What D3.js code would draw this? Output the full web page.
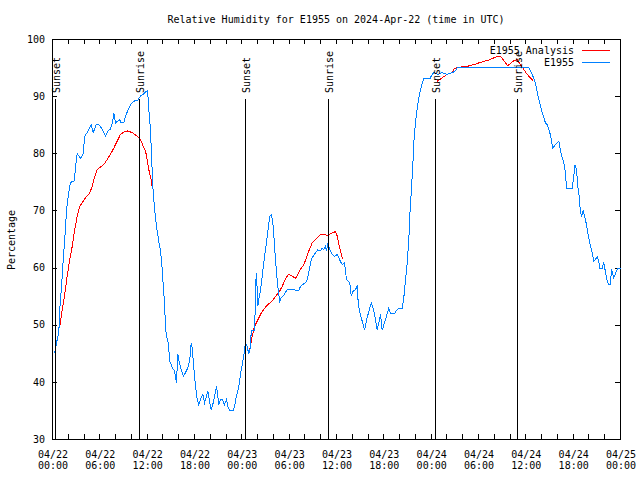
<!DOCTYPE html>
<html><head><meta charset="utf-8">
<script src="https://cdn.jsdelivr.net/npm/d3@7"></script>
<style>
body{margin:0;background:#fff}
svg text{font-family:"DejaVu Sans Mono",monospace;font-size:10px;fill:#000}
</style>
</head><body><svg id="c" width="640" height="480"></svg>
<script>
const titleText = "Relative Humidity for E1955 on 2024-Apr-22 (time in UTC)";
const yLabelText = "Percentage";
const seriesNames = ["E1955 Analysis", "E1955"];
const seriesColors = ["#ff0000", "#0080ff"];

// Observations: hours since 2024-04-22 00:00 UTC, relative humidity (%)
const obsHours = [0.29,0.47,0.67,0.80,0.93,1.10,1.23,1.36,1.52,1.65,1.77,1.94,2.12,2.28,2.70,2.79,2.92,3.13,3.55,3.89,4.09,4.40,4.60,4.91,5.16,5.54,5.87,6.30,6.72,7.01,7.35,7.64,7.77,7.99,8.49,8.71,9.04,9.25,9.54,9.89,10.31,10.81,11.15,11.50,11.79,12.00,12.13,12.21,12.42,12.63,12.76,12.93,13.06,13.27,13.47,13.69,13.85,14.03,14.20,14.32,14.45,14.67,14.87,15.05,15.21,15.38,15.55,15.72,15.88,16.05,16.31,16.57,16.86,17.15,17.40,17.58,17.71,17.91,18.13,18.34,18.54,18.76,19.05,19.27,19.48,19.69,19.90,20.12,20.37,20.54,20.79,21.08,21.30,21.51,21.80,22.06,22.22,22.47,22.91,23.07,23.32,23.62,23.83,24.05,24.25,24.46,24.68,24.88,25.10,25.19,25.61,25.73,25.82,25.95,26.02,26.15,26.37,26.58,26.78,27.00,27.22,27.42,27.55,27.76,27.98,28.18,28.39,28.61,28.81,28.99,29.24,29.75,30.38,31.22,31.44,31.65,32.07,32.29,32.49,32.70,32.92,33.21,33.63,33.97,34.19,34.39,34.61,34.73,34.90,35.15,35.45,35.75,36.09,36.38,36.72,37.01,37.27,37.69,37.87,38.12,38.41,38.63,38.75,38.96,39.26,39.55,39.86,40.18,40.40,40.65,40.94,41.16,41.36,41.58,41.79,42.08,42.34,42.63,42.84,43.39,43.60,43.90,44.33,44.53,44.75,44.96,45.16,45.29,45.47,45.67,45.80,46.01,46.23,46.43,46.65,46.86,47.06,47.83,48.13,48.33,48.84,49.40,50.03,50.67,51.08,51.30,60.38,60.81,61.22,61.44,61.64,61.86,62.07,62.28,62.49,62.71,63.04,63.22,63.42,63.76,64.18,64.39,64.61,64.81,65.03,65.15,65.88,66.08,66.21,66.42,66.59,66.76,66.93,67.09,67.27,67.44,67.60,67.78,67.98,68.20,68.41,68.62,68.83,69.05,69.25,69.38,69.68,69.88,70.22,70.39,70.52,70.73,70.85,71.15,71.58,71.78,72.00];
const obsValues = [45.2,46.6,48,48.7,53,56,58.6,61.5,64.4,67,70,72,73.8,75,75.2,75.5,77.8,80,79.2,80,83.1,83.7,84.3,85.1,83.7,85.1,85.1,84.3,83.1,84,84.3,85.7,87.2,85.4,86,85.4,85.4,86.6,87.5,88.6,89.2,89.4,90.1,90.4,90.8,91,89.8,87.8,84.2,77.2,73.2,70.5,68.8,66.5,64.7,63,60.9,57.1,53.9,49.8,48.1,46.9,43.7,43.1,42.5,42.2,41.4,39.9,45,43.7,42.2,41.1,41.7,42.5,44,46.9,46,42.5,39.3,37,36.1,37,37.9,36.4,37.3,38.5,36.7,35.2,36.4,37.6,39.3,36.1,37,37,36.1,37,35.8,35.1,35.1,35.8,37.6,39.3,41.4,43.1,44.6,46.9,46.3,44.9,46.3,49,49,54.5,59.2,56.2,53.3,54.5,56.2,58.6,60.9,63.2,65.6,67.9,69.1,69.4,67.3,63.2,59.2,56.2,54.2,54.8,55.1,56.2,56.2,56.1,56.8,57.1,57.4,58,59.2,60.9,61.8,62.4,63.2,63,63.5,63.2,63.8,63,64.4,63.2,62.4,62,62.4,61.5,60.6,60.9,58,57.4,55.1,56,56.2,57,53.9,52.2,50.7,49.1,51.2,52.8,53.9,53,51,49.2,50.4,51.9,49.1,50.4,51.6,53,52,52,52.6,53,53,54.8,58,60.9,64.7,69.1,73.2,77.8,81.9,85.4,88,89.8,91.2,92.4,93.1,93.1,93.9,94.2,93.9,94.2,93.9,94.2,94.5,95.1,95.1,93.9,92.4,90.8,89.5,88.3,87.2,86.3,85.4,85.1,83.7,82.5,81,81.6,82.2,80.5,79.3,78.4,76.7,74,74,76.1,78.1,77.2,74.3,72.6,69.7,69.1,70,69.1,68.2,66.8,65.3,63.8,62.7,61.2,61.5,62,61.2,60,60,61,58.3,57.4,57.1,57.1,59.8,58.3,59.8,60,60];

// Analysis: null marks a gap between segments
const anaHours = [0.93,1.23,1.52,1.86,2.19,2.50,2.79,3.13,3.46,3.76,4.18,4.60,4.82,5.03,5.24,5.45,5.67,6.08,6.50,6.93,7.35,7.77,8.20,8.62,9.04,9.54,10.10,10.74,11.15,11.50,11.79,12.00,12.21,12.51,12.64,
  18.0,
  24.88,25.01,25.31,25.61,25.95,26.37,26.78,27.22,27.63,28.05,28.48,28.81,29.12,29.41,29.75,29.95,30.38,30.80,31.09,31.44,31.85,32.20,32.49,32.92,33.34,33.76,33.97,34.39,34.82,35.24,35.58,35.87,36.09,36.29,36.51,36.72,36.85,
  42.0,
  48.76,49.40,50.03,50.67,50.87,51.30,52.57,53.40,54.25,55.30,56.15,56.79,57.71,58.47,58.90,59.32,60.17,60.97];
const anaValues = [49.8,52.8,55.1,58.6,61.5,63.8,66.5,69.1,70.8,71.4,72.3,72.9,73.5,74.3,75.5,76.4,77.2,77.7,78.1,79,79.9,81,82.2,83.4,83.8,84,83.7,83.1,82.5,81.3,80.5,79,77.2,75.5,74,
  null,
  44.9,45.8,48.1,49.8,50.7,51.9,52.8,53.5,54,54.6,55.4,56,56.8,57.7,58.6,58.9,58.6,58.2,58.9,59.8,60.6,61.8,63,64.4,65,65.6,65.9,65.9,65.7,66,66.2,66.4,65.6,64.1,63,61.8,61.5,
  null,
  92.7,93.3,93.9,94.2,94.8,95.1,95.3,95.6,96,96.4,96.9,97.1,95.4,96.3,96.5,95.6,93.9,92.7];

const sunHours = [0.38, 11.05, 24.46, 34.97, 48.55, 59.0];
const sunLabels = ["Sunset", "Sunrise", "Sunset", "Sunrise", "Sunset", "Sunrise"];
const yTickValues = [30, 40, 50, 60, 70, 80, 90, 100];
const xLabelStepHours = 6;
const xMinorStepHours = 2;

const t0 = Date.UTC(2024, 3, 22);
const toDate = h => new Date(t0 + h * 3600e3);

const svg = d3.select("#c");
const L = 52, R = 620, T = 39, B = 439;
const x = d3.scaleUtc().domain([toDate(0), toDate(72)]).range([L, R]);
const y = d3.scaleLinear().domain([30, 100]).range([B, T]);

// title
svg.append("text").attr("x", 336).attr("y", 23).attr("text-anchor", "middle").text(titleText);
// y label
svg.append("text").attr("transform", "translate(15,240) rotate(-90)").attr("text-anchor", "middle").text(yLabelText);

const minorTicks = d3.range(0, 72.001, xMinorStepHours).map(toDate);
const labelTicks = d3.range(0, 72.001, xLabelStepHours).map(toDate);

function clean(g) { g.select(".domain").remove(); g.selectAll("line").attr("stroke", "#000").attr("shape-rendering", "crispEdges"); }

svg.append("g").attr("transform", `translate(0,${B})`)
  .call(d3.axisBottom(x).tickValues(minorTicks).tickSizeInner(-5).tickSizeOuter(0).tickFormat(""))
  .call(clean);
svg.append("g").attr("transform", `translate(0,${T})`)
  .call(d3.axisTop(x).tickValues(minorTicks).tickSizeInner(-5).tickSizeOuter(0).tickFormat(""))
  .call(clean);

const fmtD = d3.utcFormat("%m/%d"), fmtT = d3.utcFormat("%H:%M");
const xl = svg.append("g").attr("transform", `translate(0,${B})`)
  .call(d3.axisBottom(x).tickValues(labelTicks).tickSize(0).tickFormat(""));
xl.select(".domain").remove();
xl.selectAll(".tick text").attr("dy", null).attr("y", null).each(function(d) {
  const t = d3.select(this);
  t.append("tspan").attr("x", 0.5).attr("y", 18.5).text(fmtD(d));
  t.append("tspan").attr("x", 0.5).attr("y", 30).text(fmtT(d));
});
xl.selectAll(".tick text").attr("font-family", null).attr("font-size", null);

const yl = svg.append("g").attr("transform", `translate(${L},0)`)
  .call(d3.axisLeft(y).tickValues(yTickValues).tickSizeInner(-5).tickSizeOuter(0).tickPadding(7).tickFormat(d3.format("d")))
  .call(clean);
yl.selectAll("text").attr("font-family", null).attr("font-size", null);
svg.append("g").attr("transform", `translate(${R},0)`)
  .call(d3.axisRight(y).tickValues(yTickValues).tickSizeInner(-5).tickSizeOuter(0).tickFormat(""))
  .call(clean);

// frame
svg.append("rect").attr("x", L + 0.5).attr("y", T + 0.5).attr("width", R - L).attr("height", B - T)
  .attr("fill", "none").attr("stroke", "#000").attr("shape-rendering", "crispEdges");

// data
const anaData = anaHours.map((h, i) => ({ t: toDate(h), v: anaValues[i] }));
const obsData = obsHours.map((h, i) => ({ t: toDate(h), v: obsValues[i] }));
const line = d3.line().defined(d => d.v != null).x(d => x(d.t) + 0.5).y(d => y(d.v) + 0.5);

svg.append("path").datum(anaData).attr("d", line).attr("fill", "none")
  .attr("stroke", seriesColors[0]).attr("stroke-width", 1).attr("shape-rendering", "crispEdges");
svg.append("path").datum(obsData).attr("d", line).attr("fill", "none")
  .attr("stroke", seriesColors[1]).attr("stroke-width", 1).attr("shape-rendering", "crispEdges");

// sun events
const sun = svg.append("g");
sunHours.forEach((h, i) => {
  const px = Math.round(x(toDate(h))) + 0.5;
  sun.append("line").attr("x1", px).attr("x2", px).attr("y1", 99).attr("y2", B)
    .attr("stroke", "#000").attr("shape-rendering", "crispEdges");
  sun.append("text").attr("transform", `translate(${px + 4.5},93) rotate(-90)`).text(sunLabels[i]);
});

// legend
const leg = svg.append("g");
[50, 62.5].forEach((ly, i) => {
  leg.append("text").attr("x", 574).attr("y", ly + 3.5).attr("text-anchor", "end").text(seriesNames[i]);
  leg.append("line").attr("x1", 582).attr("x2", 610).attr("y1", Math.floor(ly) + 0.5).attr("y2", Math.floor(ly) + 0.5)
    .attr("stroke", seriesColors[i]).attr("shape-rendering", "crispEdges");
});
</script>
</body></html>
